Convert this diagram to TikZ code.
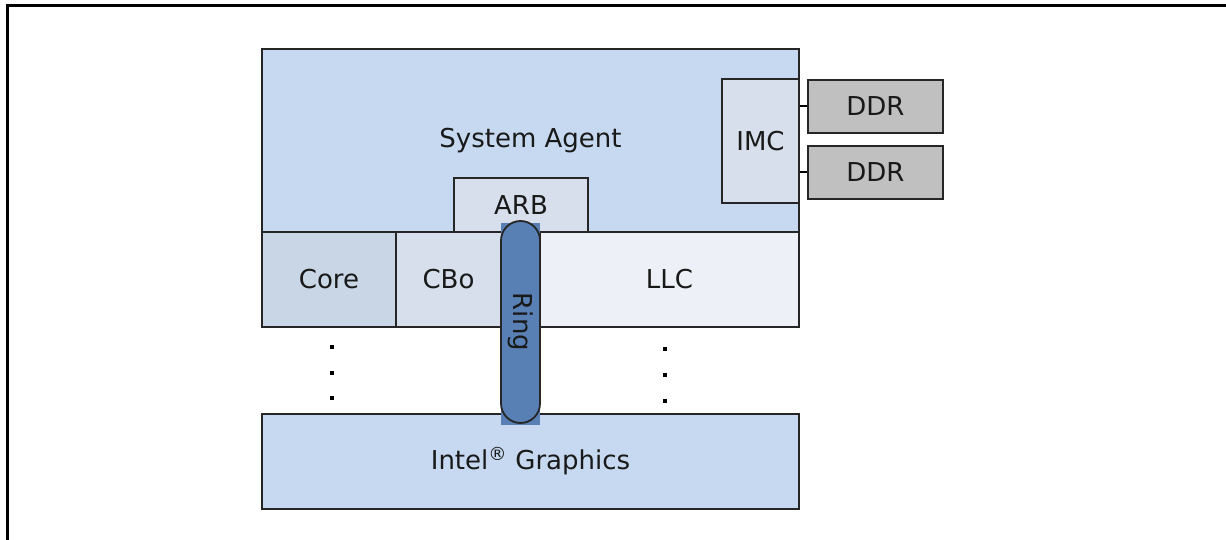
\documentclass[tikz,border=0pt]{standalone}
\usepackage{fontspec}
\setmainfont{DejaVu Sans}
\definecolor{agentblue}{HTML}{C6D9F0}
\definecolor{coreblue}{HTML}{C9D6E6}
\definecolor{paleblue}{HTML}{D6DFEB}
\definecolor{llcblue}{HTML}{EDF1F7}
\definecolor{ringblue}{HTML}{5880B5}
\definecolor{ddrgray}{HTML}{C0C0C0}
\tikzset{
  blk/.style={draw=black!85, line width=1.8pt, inner sep=0pt, text=black!90,
    font=\fontsize{26}{30}\selectfont},
  txt/.style={inner sep=0pt, text=black!90, font=\fontsize{26}{30}\selectfont},
}

\begin{document}
\begin{tikzpicture}[x=1pt,y=-1pt]
  \useasboundingbox (0,0) rectangle (1226,540);
  \draw[line width=3pt] (7,540) -- (7,6) -- (1226,6);
  % system agent and memory
  \node[blk, fill=agentblue, minimum width=537, minimum height=183] (agent) at (530.5,140.5) {System Agent};
  \node[blk, fill=paleblue, minimum width=77, minimum height=124] (imc) at (760.5,141) {IMC};
  \node[blk, fill=ddrgray, minimum width=135, minimum height=53] (ddra) at (875.5,106.5) {DDR};
  \node[blk, fill=ddrgray, minimum width=135, minimum height=53] (ddrb) at (875.5,172.5) {DDR};
  \draw[line width=2pt] (ddra.west) -- (ddra.west -| imc.east);
  \draw[line width=2pt] (ddrb.west) -- (ddrb.west -| imc.east);
  \node[blk, fill=paleblue, minimum width=134, minimum height=54] (arb) at (521,205) {ARB};
  % slice
  \node[blk, fill=coreblue, minimum width=134, minimum height=95] (core) at (329,279.5) {Core};
  \node[blk, fill=paleblue, minimum width=144, minimum height=95] (cbo) at (468,279.5) {};
  \node[txt] (cbolbl) at (448.5,279.5) {CBo};
  \node[blk, fill=llcblue, minimum width=259, minimum height=95] (llc) at (669.5,279.5) {LLC};
  \foreach \y in {345,371,396}
    \fill (329.5,\y) rectangle ++(4,4);
  \foreach \y in {347,373,399}
    \fill (663,\y) rectangle ++(4,4);
  % graphics
  \node[blk, fill=agentblue, minimum width=537, minimum height=95] (gfx) at (530.5,461.5) {Intel\textsuperscript{®} Graphics};
  % ring
  \node[fill=ringblue, inner sep=0pt, minimum width=39, minimum height=202] (ringbg) at (520.5,324) {};
  \node[blk, fill=ringblue, rounded corners=19.5pt, rotate=-90,
    minimum width=202, minimum height=39] (ring) at (520.5,322) {Ring};
\end{tikzpicture}
\end{document}
